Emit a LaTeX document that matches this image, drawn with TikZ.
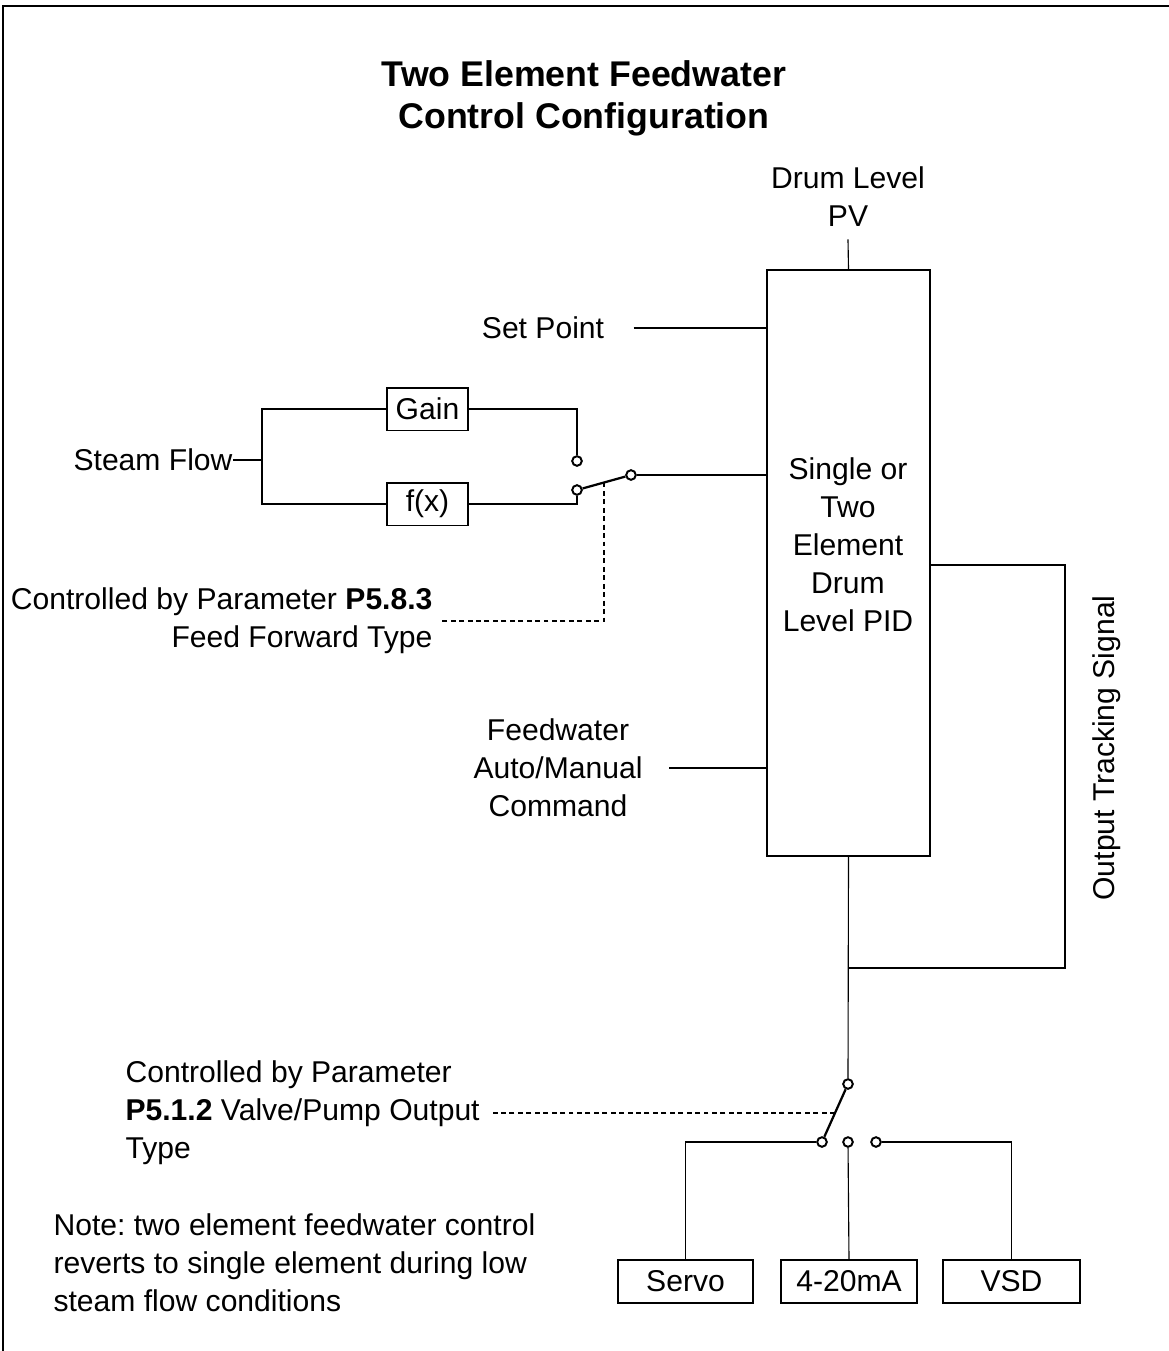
\documentclass[tikz,border=0pt]{standalone}
\usepackage{fontspec}
\setmainfont{Liberation Sans}
\frenchspacing
\usetikzlibrary{calc,positioning}

\begin{document}
\begin{tikzpicture}[
    x=0.025cm, y=-0.025cm,
    line width=0.8pt,
    txt/.style={inner sep=0pt, font=\fontsize{21.4pt}{27pt}\selectfont},
    box/.style={draw, line width=1.3pt, inner sep=0pt, minimum height=1.07cm, font=\fontsize{21.4pt}{27pt}\selectfont},
    contact/.style={circle, draw, fill=white, line width=1.4pt, inner sep=0pt, minimum size=0.24cm},
    blade/.style={line width=1.6pt},
    link/.style={dashed, dash pattern=on 3.5pt off 2.5pt}
]
\useasboundingbox (0,0) rectangle (1169,1351);
\draw[line width=1.6pt] (3,1351) -- (3,6) -- (1169,6);

\node[txt, align=center, font=\fontsize{25.4pt}{30pt}\selectfont\bfseries] (title) at (584,98) {Two Element Feedwater\\Control Configuration};

\node[box, minimum width=4.075cm, minimum height=14.65cm] (pid) at (848.5,563) {};
\node[txt, align=center] (pidtxt) at (848,545) {Single or\\Two\\Element\\Drum\\Level PID};
\node[txt, align=center] (pv) at (848,197) {Drum Level\\PV};
\node[txt] (setpt) at (543,328) {Set Point};
\node[txt, anchor=east] (steam) at (233,460) {Steam Flow};
\node[box, minimum width=2.025cm] (gain) at (427.5,409) {Gain};
\node[box, minimum width=2.025cm] (fx) at (427.5,504) {f(x)};
\node[contact] (c1) at (577,461) {};
\node[contact] (c2) at (577,490) {};
\node[contact] (c3) at (631,475) {};
\node[txt, anchor=east, align=right] (ff) at (433,621) {Controlled by Parameter \textbf{P5.8.3}\\Feed Forward Type};
\node[txt, align=center] (fwam) at (558,768) {Feedwater\\Auto/Manual\\Command};
\node[txt, rotate=90] (trktxt) at (1107,748) {Output Tracking Signal};
\coordinate (split) at (262,460);
\coordinate (trk) at (1065,565);
\coordinate (join) at (848,968);

\node[contact] (d1) at (848,1084) {};
\node[contact] (o1) at (822,1142) {};
\node[contact] (o2) at (848,1142) {};
\node[contact] (o3) at (876,1142) {};
\node[txt, anchor=west, align=left] (pp) at (125,1113) {Controlled by Parameter\\\textbf{P5.1.2} Valve/Pump Output\\Type};
\node[box, minimum width=3.375cm] (servo) at (685.5,1281.5) {Servo};
\node[box, minimum width=3.4cm] (ma) at (849,1281.5) {4-20mA};
\node[box, minimum width=3.425cm] (vsd) at (1011.5,1281.5) {VSD};
\node[txt, anchor=west, align=left] (note) at (53,1263) {Note: two element feedwater control\\reverts to single element during low\\steam flow conditions};

\draw (pv.south) ++(0,12) -- (pid.north);
\draw ($(setpt.east)+(29,0)$) -- (setpt.east -| pid.west);
\draw (steam.east) -- (split);
\draw (split) |- (gain.west);
\draw (split) |- (fx.west);
\draw (gain.east) -| (c1.north);
\draw (fx.east) -| (c2.south);
\draw[blade] (c2) -- (c3);
\draw (c3) -- (c3 -| pid.west);
\draw[link] ($(c2)!0.5!(c3)$) |- ($(ff.east)+(8,0)$);
\draw ($(fwam.east)+(26,0)$) -- (fwam.east -| pid.west);
\draw (trk -| pid.east) -- (trk) |- (join);

\draw (pid.south) -- (d1);
\draw[blade] (d1) -- (o1);
\draw[link] ($(d1)!0.5!(o1)$) -- ($(pp.east)+(12,0)$);
\draw (o1) -| (servo.north);
\draw (o2) -- (ma.north);
\draw (o3) -| (vsd.north);
\end{tikzpicture}
\end{document}
